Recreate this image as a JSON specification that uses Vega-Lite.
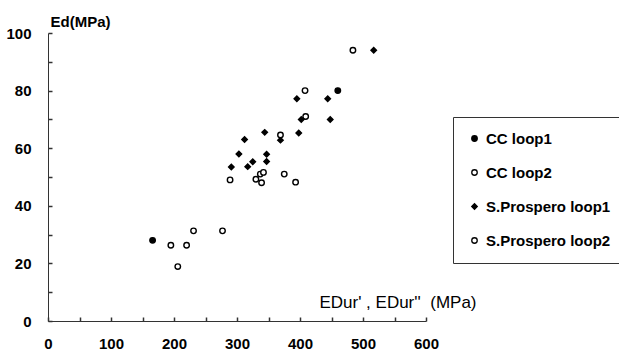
{
  "$schema": "https://vega.github.io/schema/vega-lite/v6.json",
  "autosize": {"type": "none"},
  "width": 378,
  "height": 288,
  "padding": {"left": 48, "top": 33, "right": 193, "bottom": 30},
  "background": "white",
  "config": {
    "view": {"stroke": null},
    "font": "Liberation Sans",
    "axis": {"grid": false, "domainColor": "#333", "tickColor": "#333", "tickWidth": 1.5, "labelColor": "black", "titleColor": "black", "labelFont": "Liberation Sans", "titleFont": "Liberation Sans", "labelFontWeight": "bold", "titleFontWeight": "bold", "labelFontSize": 15, "titleFontSize": 15},
    "legend": {"symbolStrokeWidth": 1.3}
  },
  "data": {
    "values": [
      {"edur": 460, "ed": 80, "series": "CC loop1"},
      {"edur": 166, "ed": 28, "series": "CC loop1"},
      {"edur": 408, "ed": 80, "series": "CC loop2"},
      {"edur": 289, "ed": 49, "series": "CC loop2"},
      {"edur": 330, "ed": 49.2, "series": "CC loop2"},
      {"edur": 337, "ed": 51, "series": "CC loop2"},
      {"edur": 339, "ed": 48, "series": "CC loop2"},
      {"edur": 375, "ed": 51, "series": "CC loop2"},
      {"edur": 393, "ed": 48.2, "series": "CC loop2"},
      {"edur": 195, "ed": 26.3, "series": "CC loop2"},
      {"edur": 220, "ed": 26.3, "series": "CC loop2"},
      {"edur": 231, "ed": 31.3, "series": "CC loop2"},
      {"edur": 277, "ed": 31.3, "series": "CC loop2"},
      {"edur": 206, "ed": 18.9, "series": "CC loop2"},
      {"edur": 517, "ed": 94, "series": "S.Prospero loop1"},
      {"edur": 395, "ed": 77.2, "series": "S.Prospero loop1"},
      {"edur": 444, "ed": 77.2, "series": "S.Prospero loop1"},
      {"edur": 402, "ed": 70, "series": "S.Prospero loop1"},
      {"edur": 448, "ed": 70, "series": "S.Prospero loop1"},
      {"edur": 398, "ed": 65.3, "series": "S.Prospero loop1"},
      {"edur": 369, "ed": 62.8, "series": "S.Prospero loop1"},
      {"edur": 347, "ed": 57.9, "series": "S.Prospero loop1"},
      {"edur": 347, "ed": 55.4, "series": "S.Prospero loop1"},
      {"edur": 344, "ed": 65.5, "series": "S.Prospero loop1"},
      {"edur": 312, "ed": 63, "series": "S.Prospero loop1"},
      {"edur": 303, "ed": 58, "series": "S.Prospero loop1"},
      {"edur": 291, "ed": 53.5, "series": "S.Prospero loop1"},
      {"edur": 317, "ed": 53.6, "series": "S.Prospero loop1"},
      {"edur": 325, "ed": 55.3, "series": "S.Prospero loop1"},
      {"edur": 484, "ed": 94, "series": "S.Prospero loop2"},
      {"edur": 409, "ed": 71, "series": "S.Prospero loop2"},
      {"edur": 369, "ed": 64.6, "series": "S.Prospero loop2"},
      {"edur": 342, "ed": 51.6, "series": "S.Prospero loop2"}
    ]
  },
  "resolve": {"axis": {"x": "independent", "y": "independent"}},
  "layer": [
    {
      "mark": {"type": "point", "opacity": 0},
      "encoding": {
        "x": {
          "field": "edur", "type": "quantitative",
          "scale": {"domain": [0, 600], "nice": false},
          "axis": {"orient": "top", "offset": -288, "values": [0, 50, 100, 150, 200, 250, 300, 350, 400, 450, 500, 550, 600], "labels": false, "domain": false, "tickSize": 4, "title": null}
        },
        "y": {
          "field": "ed", "type": "quantitative",
          "scale": {"domain": [0, 100], "nice": false},
          "axis": {"orient": "right", "offset": -378, "values": [0, 10, 20, 30, 40, 50, 60, 70, 80, 90, 100], "labels": false, "domain": false, "tickSize": 4, "title": null}
        }
      }
    },
    {
      "mark": {"type": "point", "filled": false, "strokeWidth": 1.4, "opacity": 1},
      "encoding": {
        "x": {
          "field": "edur", "type": "quantitative",
          "scale": {"domain": [0, 600], "nice": false},
          "axis": {
            "values": [0, 100, 200, 300, 400, 500, 600],
            "ticks": false, "labelPadding": 15, "labelFlush": false,
            "title": "EDur'\u00a0, EDur''\u00a0 (MPa)",
            "titleFontSize": 17, "titleFontWeight": "normal",
            "titleAnchor": "start", "titleAlign": "right", "titleBaseline": "middle",
            "titleX": 428, "titleY": -19
          }
        },
        "y": {
          "field": "ed", "type": "quantitative",
          "scale": {"domain": [0, 100], "nice": false},
          "axis": {
            "values": [0, 20, 40, 60, 80, 100],
            "ticks": false, "labelPadding": 17, "labelFlush": false,
            "title": "Ed(MPa)", "titleAngle": 0,
            "titleAnchor": "start", "titleAlign": "left", "titleBaseline": "middle",
            "titleX": 2, "titleY": -12
          }
        },
        "stroke": {
          "field": "series", "type": "nominal",
          "scale": {"domain": ["CC loop1", "CC loop2", "S.Prospero loop1", "S.Prospero loop2"], "range": ["black", "black", "black", "black"]},
          "legend": {"title": null, "orient": "none", "legendX": 405, "legendY": 84, "strokeColor": "#333", "padding": 14, "rowPadding": 18, "labelFontSize": 15, "labelFont": "Liberation Sans", "labelFontWeight": "bold", "labelColor": "black", "labelOffset": 4}
        },
        "shape": {
          "field": "series", "type": "nominal",
          "scale": {"domain": ["CC loop1", "CC loop2", "S.Prospero loop1", "S.Prospero loop2"], "range": ["circle", "circle", "diamond", "circle"]},
          "legend": {"title": null, "orient": "none", "legendX": 405, "legendY": 84, "strokeColor": "#333", "padding": 14, "rowPadding": 18, "labelFontSize": 15, "labelFont": "Liberation Sans", "labelFontWeight": "bold", "labelColor": "black", "labelOffset": 4}
        },
        "fill": {
          "field": "series", "type": "nominal",
          "scale": {"domain": ["CC loop1", "CC loop2", "S.Prospero loop1", "S.Prospero loop2"], "range": ["black", "white", "black", "white"]},
          "legend": {"title": null, "orient": "none", "legendX": 405, "legendY": 84, "strokeColor": "#333", "padding": 14, "rowPadding": 18, "labelFontSize": 15, "labelFont": "Liberation Sans", "labelFontWeight": "bold", "labelColor": "black", "labelOffset": 4}
        },
        "size": {
          "field": "series", "type": "nominal",
          "scale": {"domain": ["CC loop1", "CC loop2", "S.Prospero loop1", "S.Prospero loop2"], "range": [30, 30, 30, 14]},
          "legend": {"title": null, "orient": "none", "legendX": 405, "legendY": 84, "strokeColor": "#333", "padding": 14, "rowPadding": 18, "labelFontSize": 15, "labelFont": "Liberation Sans", "labelFontWeight": "bold", "labelColor": "black", "labelOffset": 4}
        }
      }
    }
  ]
}
